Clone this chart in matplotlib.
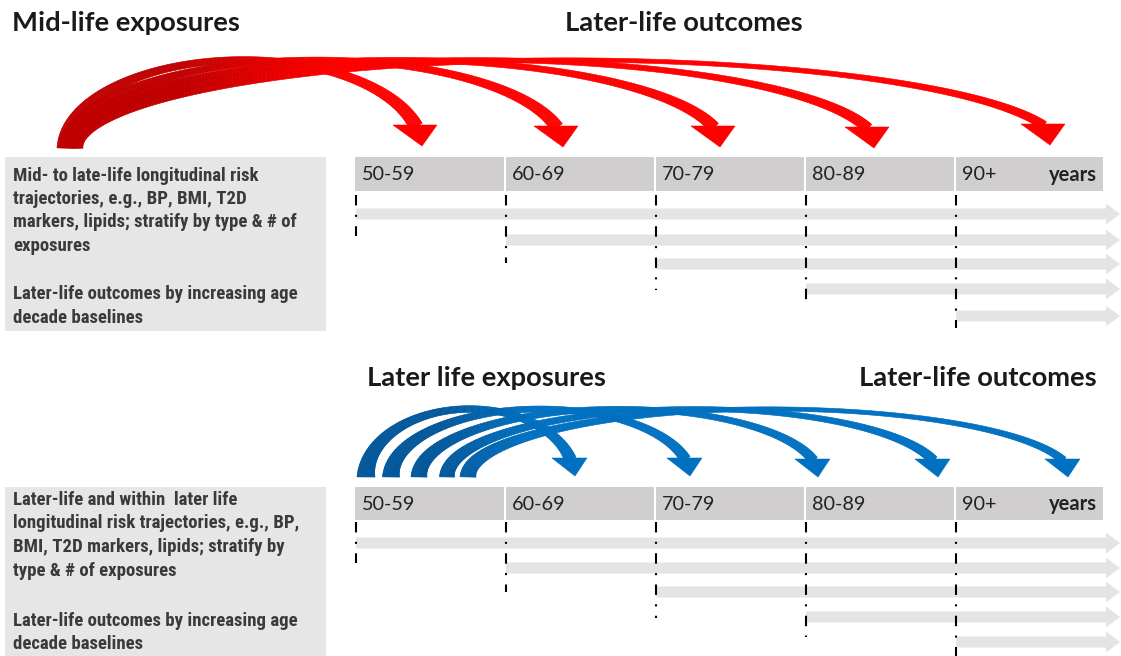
import numpy as np
import matplotlib.pyplot as plt
from matplotlib.collections import PolyCollection
from matplotlib.patches import Polygon, Rectangle
from matplotlib import font_manager
from matplotlib.colors import to_rgb

# ---------------- content ----------------
age_groups = ['50-59', '60-69', '70-79', '80-89', '90+']
unit_label = 'years'

top_titles = ['Mid-life exposures', 'Later-life outcomes']
bottom_titles = ['Later life exposures', 'Later-life outcomes']

top_box_lines = ['Mid- to late-life longitudinal risk',
                 'trajectories, e.g., BP, BMI, T2D',
                 'markers, lipids; stratify by type & # of',
                 'exposures',
                 'Later-life outcomes by increasing age',
                 'decade baselines']
bottom_box_lines = ['Later-life and within  later life',
                    'longitudinal risk trajectories, e.g., BP,',
                    'BMI, T2D markers, lipids; stratify by',
                    'type & # of exposures',
                    'Later-life outcomes by increasing age',
                    'decade baselines']

# arrow tips (pixel coords of the original slide)
red_tips = [(422, 146), (563, 147), (720, 147), (874, 148), (1050, 145)]
red_starts = [65, 67.5, 70, 72.5, 75]
blue_tips = [(575, 476), (690, 476), (818, 477), (938, 477), (1068, 477)]
blue_starts = [366, 391, 419, 447, 468]

# ---------------- layout ----------------
W, H = 1121, 656
col_x = [355, 505, 655, 805, 955]
bar_right = 1103
arrow_tip_x = 1120

panels = [
    dict(bar_y=(157, 191), rows=[214, 240, 264, 289, 316],
         dash_start=195, dash_end=[236, 263, 290, 308, 328],
         box=(5, 157, 326, 331), box_lines=top_box_lines,
         line_y=[176, 199, 222, 246, 294, 318]),
    dict(bar_y=(487, 520), rows=[543, 568, 592, 617, 642],
         dash_start=522, dash_end=[563, 592, 618, 637, 656],
         box=(5, 487, 326, 660), box_lines=bottom_box_lines,
         line_y=[500, 523, 547, 571, 621, 644]),
]

names = {f.name for f in font_manager.fontManager.ttflist}


def pick(*cands):
    for c in cands:
        if c in names:
            return c
    return 'DejaVu Sans'


narrow_font = pick('Liberation Sans Narrow', 'Roboto Condensed', 'Liberation Sans')
head_font = pick('Lato', 'Open Sans', 'DejaVu Sans')

fig = plt.figure(figsize=(W / 100, H / 100), dpi=100)
ax = fig.add_axes([0, 0, 1, 1])
ax.set_xlim(0, W)
ax.set_ylim(H, 0)
ax.axis('off')

box_col = '#e7e6e6'
bar_col = '#d0cece'
grey_arrow = '#e4e4e4'

for p in panels:
    x0, y0, x1, y1 = p['box']
    ax.add_patch(Rectangle((x0, y0), x1 - x0, y1 - y0, fc=box_col, ec='none'))
    for txt, yy in zip(p['box_lines'], p['line_y']):
        ax.text(13, yy, txt, family=narrow_font, weight='bold', fontsize=13.5,
                color='#3a3a3a', va='center', ha='left')

    b0, b1 = p['bar_y']
    ax.add_patch(Rectangle((col_x[0], b0), bar_right - col_x[0], b1 - b0, fc=bar_col, ec='none'))
    for cx in col_x[1:]:
        ax.plot([cx, cx], [b0, b1], color='white', lw=1.5)
    for cx, lab in zip(col_x, age_groups):
        ax.text(cx + 7, (b0 + b1) / 2 + 1, lab, family=head_font, fontsize=14.3,
                color='#222222', va='center', ha='left')
    ax.text(bar_right - 6, (b0 + b1) / 2 + 1, unit_label, family=head_font, fontsize=14.5,
            weight='bold', color='#222222', va='center', ha='right')

    # grey timeline arrows
    for cx, ry in zip(col_x, p['rows']):
        sh, hh = 5.5, 10.5
        hx = arrow_tip_x - 14
        pts = [(cx + 1, ry - sh), (hx, ry - sh), (hx, ry - hh), (arrow_tip_x, ry),
               (hx, ry + hh), (hx, ry + sh), (cx + 1, ry + sh)]
        ax.add_patch(Polygon(pts, closed=True, fc=grey_arrow, ec='none'))

    # dash-dot baseline markers
    for cx, ye in zip(col_x, p['dash_end']):
        ax.plot([cx + 1, cx + 1], [p['dash_start'], ye], color='black', lw=1.5,
                linestyle=(0, (5, 4.5, 1, 4.5)), dash_capstyle='butt')


def blend(c0, c1, f):
    a, b = np.array(to_rgb(c0)), np.array(to_rgb(c1))
    return tuple(a + (b - a) * f)


def curved_arrow(xs, ys, tip, peak_y, w0, wmid, w1, c0, c1, xa, xb,
                 head_w, head_h, n=260):
    tx, ty = tip
    bl = tx - 0.66 * head_w
    br = bl + head_w
    by = ty - head_h
    xe, ye = (bl + br) / 2 + 1, by + 1.5
    ry = ys - peak_y
    th_e = np.arcsin((ys - ye) / ry)
    rx = (xe - xs) / (1 + np.cos(th_e))
    cx = xs + rx
    th = np.linspace(np.pi, th_e, n)
    x = cx + rx * np.cos(th)
    y = ys - ry * np.sin(th)
    t = np.linspace(0, 1, n)
    w = wmid + (w0 - wmid) * (1 - t) ** 3 + (w1 - wmid) * t ** 3
    dx, dy = np.gradient(x), np.gradient(y)
    L = np.hypot(dx, dy)
    nx, ny = -dy / L, dx / L
    xl, yl = x + nx * w / 2, y + ny * w / 2
    xr, yr = x - nx * w / 2, y - ny * w / 2
    quads = [[(xl[i], yl[i]), (xl[i + 1], yl[i + 1]), (xr[i + 1], yr[i + 1]), (xr[i], yr[i])]
             for i in range(n - 1)]
    f = np.clip((x[:-1] - xa) / (xb - xa), 0, 1)
    cols = [blend(c0, c1, v) for v in f]
    ax.add_collection(PolyCollection(quads, facecolors=cols, edgecolors=cols, linewidths=0.4))
    ax.add_patch(Polygon([(bl, by), (br, by), (tx, ty)], closed=True, fc=c1, ec=c1, lw=0.4))


red_w1 = [14, 13, 12, 11, 9]
red_wmid = [4, 3, 2.5, 2, 1.8]
for i in reversed(range(5)):
    curved_arrow(red_starts[i], 148, red_tips[i], 60, 16, red_wmid[i], red_w1[i],
                 '#c00000', '#ff0000', 180, 330, 44, 21)

blue_w0 = [18, 17, 16, 15, 16]
blue_w1 = [12, 11, 10, 10, 8]
blue_wmid = [4, 3.5, 3, 2.5, 2]
for i in reversed(range(5)):
    curved_arrow(blue_starts[i], 477, blue_tips[i], 409, blue_w0[i], blue_wmid[i], blue_w1[i],
                 '#00569a', '#0070c0', 440, 530, 35, 18)

# titles
ax.text(12, 31, top_titles[0], family=head_font, weight='bold', fontsize=19.7,
        color='#1a1a1a', va='baseline', ha='left')
ax.text(565, 31, top_titles[1], family=head_font, weight='bold', fontsize=19.7,
        color='#1a1a1a', va='baseline', ha='left')
ax.text(367, 386, bottom_titles[0], family=head_font, weight='bold', fontsize=19.7,
        color='#1a1a1a', va='baseline', ha='left')
ax.text(1097, 386, bottom_titles[1], family=head_font, weight='bold', fontsize=19.7,
        color='#1a1a1a', va='baseline', ha='right')

fig.savefig('out.png', dpi=100)
